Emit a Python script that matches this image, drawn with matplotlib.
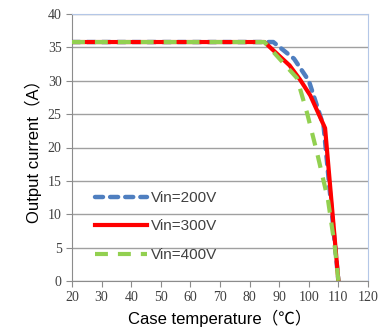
import matplotlib
matplotlib.use("Agg")
import matplotlib.pyplot as plt

plt.rcParams['font.family'] = ['Liberation Sans', 'Noto Sans CJK SC', 'DejaVu Sans']

# 读取的曲线数据
t_200 = [20, 88, 95, 100, 105, 110]
i_200 = [35.8, 35.8, 33.3, 30.0, 23.2, 0]

t_300 = [20, 85, 93.5, 97, 100.5, 105.5, 110]
i_300 = [35.8, 35.8, 32.3, 30.2, 27.8, 22.9, 0]

t_400 = [20, 85, 96, 99.4, 102.8, 106.5, 108.8, 110]
i_400 = [35.8, 35.8, 30.4, 25.2, 19.2, 12.1, 5.1, 0]

labels = ['Vin=200V', 'Vin=300V', 'Vin=400V']

fig = plt.figure(figsize=(3.86, 3.33), dpi=100)
ax = fig.add_axes([72 / 386, 1 - 281 / 333, 296 / 386, 267 / 333])

ax.plot(t_200, i_200, color='#4f7fc0', lw=3.2, dashes=(1.8, 1.6),
        dash_capstyle='round', label=labels[0], zorder=3)
ax.plot(t_300, i_300, color='#ff0000', lw=3.0, label=labels[1], zorder=4)
ax.plot(t_400, i_400, color='#92d050', lw=3.0, dashes=(3.1, 2.4),
        label=labels[2], zorder=5)

ax.set_xlim(20, 120)
ax.set_ylim(0, 40)
ax.set_xticks(range(20, 121, 10))
ax.set_yticks(range(0, 41, 5))
ax.yaxis.grid(True, color='#a0a0a0', lw=1)
ax.set_axisbelow(True)

for s in ['left', 'bottom']:
    ax.spines[s].set_color('#8c8c8c')
for s in ['top', 'right']:
    ax.spines[s].set_color('#b4c7e7')
ax.tick_params(axis='both', colors='#8c8c8c', labelcolor='#404040',
               labelsize=10, length=4, direction='out')
for lab in ax.get_xticklabels() + ax.get_yticklabels():
    lab.set_family(['Liberation Serif', 'DejaVu Serif'])

ax.set_xlabel('Case temperature（℃）', fontsize=12, color='black', labelpad=4)
ax.set_ylabel('Output current（A）', fontsize=12, color='black', labelpad=4)

ax.legend(loc='lower left', bbox_to_anchor=(0.03, 0.02), frameon=False,
          fontsize=11, handlelength=3.4, labelspacing=0.95,
          labelcolor='#404040', handletextpad=0.3)

fig.savefig('out.png', dpi=100)
